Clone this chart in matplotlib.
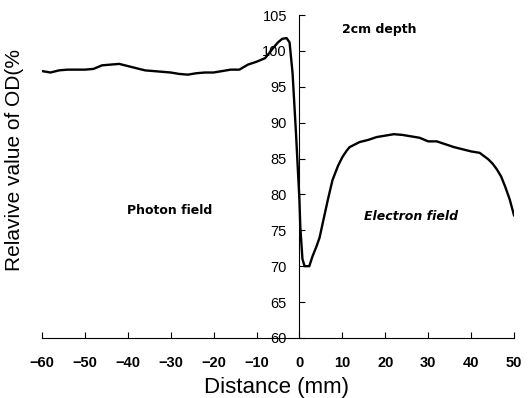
import matplotlib.pyplot as plt

# profile
dist = [-60, -58, -56, -54, -52, -50, -48, -46, -44, -42, -40, -38, -36, -34, -32,
        -30, -28, -26, -24, -22, -20, -18, -16, -14, -12, -10, -8, -6, -5, -4, -3,
        -2.3, -1.6, -0.8, 0, 0.2, 0.7, 1.2, 2.3, 3, 4, 4.7, 5.5, 6.6, 7.7, 9, 10,
        11, 11.7, 14, 16, 18, 20, 22, 24, 26, 28, 30, 32, 34, 36, 38, 40, 42, 44,
        45, 46, 47, 48, 49, 50]
od = [97.2, 97.0, 97.3, 97.4, 97.4, 97.4, 97.5, 98.0, 98.1, 98.2, 97.9, 97.6, 97.3,
      97.2, 97.1, 97.0, 96.8, 96.7, 96.9, 97.0, 97.0, 97.2, 97.4, 97.4, 98.1, 98.5,
      99.0, 100.5, 101.2, 101.7, 101.8, 101.2, 96.9, 88.5, 79.2, 75.5, 71, 70,
      70, 71.3, 72.8, 74, 76.2, 79.2, 82, 84, 85.2, 86.1, 86.6, 87.3, 87.6, 88.0,
      88.2, 88.4, 88.3, 88.1, 87.9, 87.4, 87.4, 87.0, 86.6, 86.3, 86.0, 85.8, 84.9,
      84.3, 83.5, 82.5, 81.0, 79.3, 77.1]

xticks = list(range(-60, 51, 10))
yticks = list(range(60, 106, 5))

plt.rcParams['font.family'] = ['Liberation Sans', 'DejaVu Sans']

fig = plt.figure(figsize=(5.31, 3.98), dpi=100)
ax = fig.add_axes([0.079, 0.151, 0.889, 0.811])

ax.plot(dist, od, color='black', linewidth=1.7)

ax.set_xlim(-60, 50)
ax.set_ylim(60, 105)
ax.set_xticks(xticks)
ax.set_yticks(yticks)
ax.set_xticklabels([str(t).replace('-', '\u2212') for t in xticks], fontweight='bold')
ax.set_yticklabels([str(t) for t in yticks], fontweight='bold')

ax.spines['top'].set_visible(False)
ax.spines['right'].set_visible(False)
ax.spines['left'].set_position(('data', 0))
ax.tick_params(axis='y', direction='in', length=4, labelsize=10.5, pad=9)
ax.tick_params(axis='x', direction='in', length=4, labelsize=10.5, pad=13)

ax.text(18.6, 103, '2cm depth', fontsize=9, fontweight='bold', family='DejaVu Sans',
        ha='center', va='center')
ax.text(-30.3, 77.8, 'Photon field', fontsize=9, fontweight='bold', family='DejaVu Sans',
        ha='center', va='center')
ax.text(26, 76.9, 'Electron field', fontsize=9, fontweight='bold', style='italic',
        family='DejaVu Sans', ha='center', va='center')

fig.text(277 / 531, 1 - 387 / 398, 'Distance (mm)', fontsize=16, ha='center', va='center')
fig.text(15 / 531, 1 - 160 / 398, 'Relavive value of OD(%', fontsize=15,
         rotation=90, ha='center', va='center')

fig.savefig('out.png', dpi=100)
